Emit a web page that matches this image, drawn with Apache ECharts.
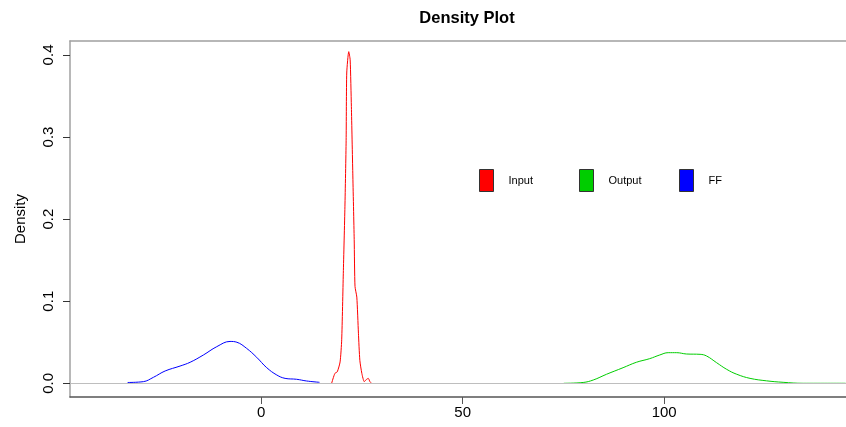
<!DOCTYPE html>
<html>
<head>
<meta charset="utf-8">
<script src="https://cdn.jsdelivr.net/npm/echarts@6/dist/echarts.min.js"></script>
<style>
  html, body { margin: 0; padding: 0; background: #fff; }
  #chart { width: 846px; height: 427px; }
</style>
</head>
<body>
<div id="chart"></div>
<script>
// density curves
const ffX = [-33.1, -29.2, -26.7, -23.8, -20.1, -17.6, -14.3, -11.0, -7.7, -6.0, -3.6, -1.1, 1.4, 3.9, 5.95, 8.8, 11.3, 14.5];
const ffY = [0.001, 0.002, 0.0073, 0.015, 0.021, 0.0256, 0.0345, 0.0446, 0.051, 0.050, 0.0426, 0.0317, 0.019, 0.0101, 0.006, 0.0049, 0.0028, 0.0012];

const inputX = [17.5, 18.3, 18.9, 19.6, 20.0, 20.4, 20.8, 21.1, 21.25, 21.75, 22.1, 22.4, 22.75, 23.1, 23.3, 23.75, 24.15, 24.5, 25.0, 25.6, 26.2, 26.6, 27.0, 27.4];
const inputY = [0, 0.012, 0.014, 0.026, 0.053, 0.134, 0.215, 0.296, 0.378, 0.404, 0.394, 0.337, 0.256, 0.175, 0.118, 0.105, 0.061, 0.028, 0.012, 0.002, 0.005, 0.006, 0.002, 0];

const outputX = [75.1, 79.9, 82.4, 85.7, 89.8, 93.1, 96.4, 98.9, 101.0, 103.1, 105.5, 108.9, 110.5, 113.0, 115.5, 118.0, 121.3, 125.4, 129.5, 134.5, 145];
const outputY = [0, 0.001, 0.004, 0.011, 0.019, 0.0256, 0.030, 0.0345, 0.0373, 0.0373, 0.0357, 0.0353, 0.0333, 0.0251, 0.017, 0.011, 0.006, 0.003, 0.0012, 0, 0];

const xTicks = [0, 50, 100];
const yTicks = [0, 0.1, 0.2, 0.3, 0.4];

const xMin = -47.4, xMax = 145.1;

const pairs = (xs, ys) => xs.map((x, i) => [x, ys[i]]);

const chart = echarts.init(document.getElementById('chart'));

const legendItem = (name, color, left) => ({
  left: left,
  top: 169,
  padding: 0,
  itemWidth: 14,
  itemHeight: 22,
  data: [{ name: name, icon: 'rect', itemStyle: { color: color, borderColor: '#333', borderWidth: 1 } }],
  textStyle: { fontFamily: 'Liberation Sans', fontSize: 11, color: '#000', padding: [0, 0, 0, 10] },
  selectedMode: false
});

chart.setOption({
  animation: false,
  backgroundColor: '#fff',
  title: {
    text: 'Density Plot',
    left: 462,
    textAlign: 'center',
    top: 5,
    textStyle: { fontFamily: 'Liberation Sans', fontSize: 16.5, fontWeight: 'bold', color: '#000' }
  },
  legend: [
    legendItem('Input', '#FF0000', 479),
    legendItem('Output', '#00CD00', 579),
    legendItem('FF', '#0000FF', 679)
  ],
  grid: { left: 70, right: 0, top: 41, bottom: 30 },
  xAxis: [
    {
      type: 'value',
      min: xMin,
      max: xMax,
      axisLine: { show: true, onZero: false, lineStyle: { color: '#555', width: 1.5 } },
      axisTick: { show: true, length: 7, customValues: xTicks, lineStyle: { color: '#555' } },
      axisLabel: { customValues: xTicks, margin: 8, fontFamily: 'Liberation Sans', fontSize: 15, color: '#000' },
      splitLine: { show: false }
    },
    {
      // top frame line only
      type: 'value',
      position: 'top',
      min: xMin,
      max: xMax,
      axisLine: { show: true, onZero: false, lineStyle: { color: '#a0a0a0', width: 1.5 } },
      axisTick: { show: false },
      axisLabel: { show: false },
      splitLine: { show: false }
    }
  ],
  yAxis: {
    type: 'value',
    min: -0.0167,
    max: 0.417,
    name: 'Density',
    nameLocation: 'middle',
    nameRotate: 90,
    nameGap: 42,
    nameTextStyle: { fontFamily: 'Liberation Sans', fontSize: 15, color: '#000' },
    axisLine: { show: true, onZero: false, lineStyle: { color: '#a0a0a0', width: 1.5 } },
    axisTick: { show: true, length: 7, customValues: yTicks, lineStyle: { color: '#333' } },
    axisLabel: {
      customValues: yTicks,
      rotate: 90,
      margin: 14,
      fontFamily: 'Liberation Sans',
      fontSize: 15,
      color: '#000',
      formatter: v => v.toFixed(1)
    },
    splitLine: { show: false }
  },
  series: [
    {
      name: 'FF',
      type: 'line',
      data: pairs(ffX, ffY),
      smooth: 0.4,
      showSymbol: false,
      lineStyle: { color: '#0000FF', width: 1 },
      itemStyle: { color: '#0000FF' },
      markLine: {
        silent: true,
        symbol: 'none',
        label: { show: false },
        lineStyle: { color: '#bebebe', type: 'solid', width: 1 },
        data: [{ yAxis: 0 }]
      },
      z: 3
    },
    {
      name: 'Input',
      type: 'line',
      data: pairs(inputX, inputY),
      smooth: 0.2,
      showSymbol: false,
      lineStyle: { color: '#FF0000', width: 1 },
      itemStyle: { color: '#FF0000' },
      z: 3
    },
    {
      name: 'Output',
      type: 'line',
      data: pairs(outputX, outputY),
      smooth: 0.4,
      showSymbol: false,
      lineStyle: { color: '#00CD00', width: 1 },
      itemStyle: { color: '#00CD00' },
      z: 3
    }
  ]
});
</script>
</body>
</html>
